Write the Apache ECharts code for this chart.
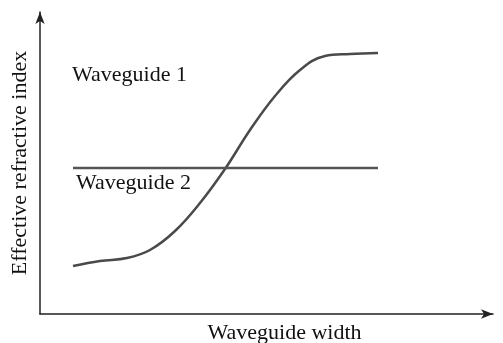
<!DOCTYPE html>
<html>
<head>
<meta charset="utf-8">
<script src="https://cdn.jsdelivr.net/npm/echarts@6/dist/echarts.min.js"></script>
<style>html,body{margin:0;padding:0;background:#fff;}#c{width:503px;height:343px;}</style>
</head>
<body>
<div id="c"></div>
<script>
// Waveguide width (arbitrary units) and effective index (arbitrary units)
const wg1X = [33, 60, 87, 110, 135, 160, 185, 210, 235, 260, 285, 310, 338];
const wg1Y = [48, 53, 56, 64, 83, 111, 145, 184, 218, 244, 258, 260, 261];
const wg2X = [33, 338];
const wg2Y = [146, 146];
const xName = 'Waveguide width';
const yName = 'Effective refractive index';
const label1 = 'Waveguide 1';
const label2 = 'Waveguide 2';

const FONT = 'Liberation Serif';
const chart = echarts.init(document.getElementById('c'));
chart.setOption({
  animation: false,
  grid: { left: 40, right: 10, top: 12, bottom: 29, containLabel: false, outerBoundsMode: 'none' },
  xAxis: {
    type: 'value', min: 0, max: 453,
    name: xName, nameLocation: 'middle', nameGap: 8,
    nameTextStyle: { fontFamily: FONT, fontSize: 22, color: '#111', padding: [0, 0, 0, 36] },
    axisLine: { show: true, symbol: ['none', 'arrow'], symbolSize: [7, 12], lineStyle: { color: '#222', width: 1.5 } },
    axisTick: { show: false }, axisLabel: { show: false }, splitLine: { show: false }
  },
  yAxis: {
    type: 'value', min: 0, max: 302,
    name: yName, nameLocation: 'middle', nameGap: 9,
    nameTextStyle: { fontFamily: FONT, fontSize: 22, color: '#111' },
    axisLine: { show: true, symbol: ['none', 'arrow'], symbolSize: [7, 12], lineStyle: { color: '#222', width: 1.5 } },
    axisTick: { show: false }, axisLabel: { show: false }, splitLine: { show: false }
  },
  series: [
    {
      type: 'line', smooth: 0.4, symbol: 'none',
      data: wg1X.map((x, i) => [x, wg1Y[i]]),
      lineStyle: { color: '#4a4a4a', width: 2.5 }
    },
    {
      type: 'line', symbol: 'none',
      data: wg2X.map((x, i) => [x, wg2Y[i]]),
      lineStyle: { color: '#555', width: 2.5 }
    }
  ],
  graphic: [
    { type: 'text', left: 72, top: 64, style: { text: label1, fontFamily: FONT, fontSize: 22, fill: '#111' } },
    { type: 'text', left: 76, top: 172, style: { text: label2, fontFamily: FONT, fontSize: 22, fill: '#111' } }
  ]
});
</script>
</body>
</html>
